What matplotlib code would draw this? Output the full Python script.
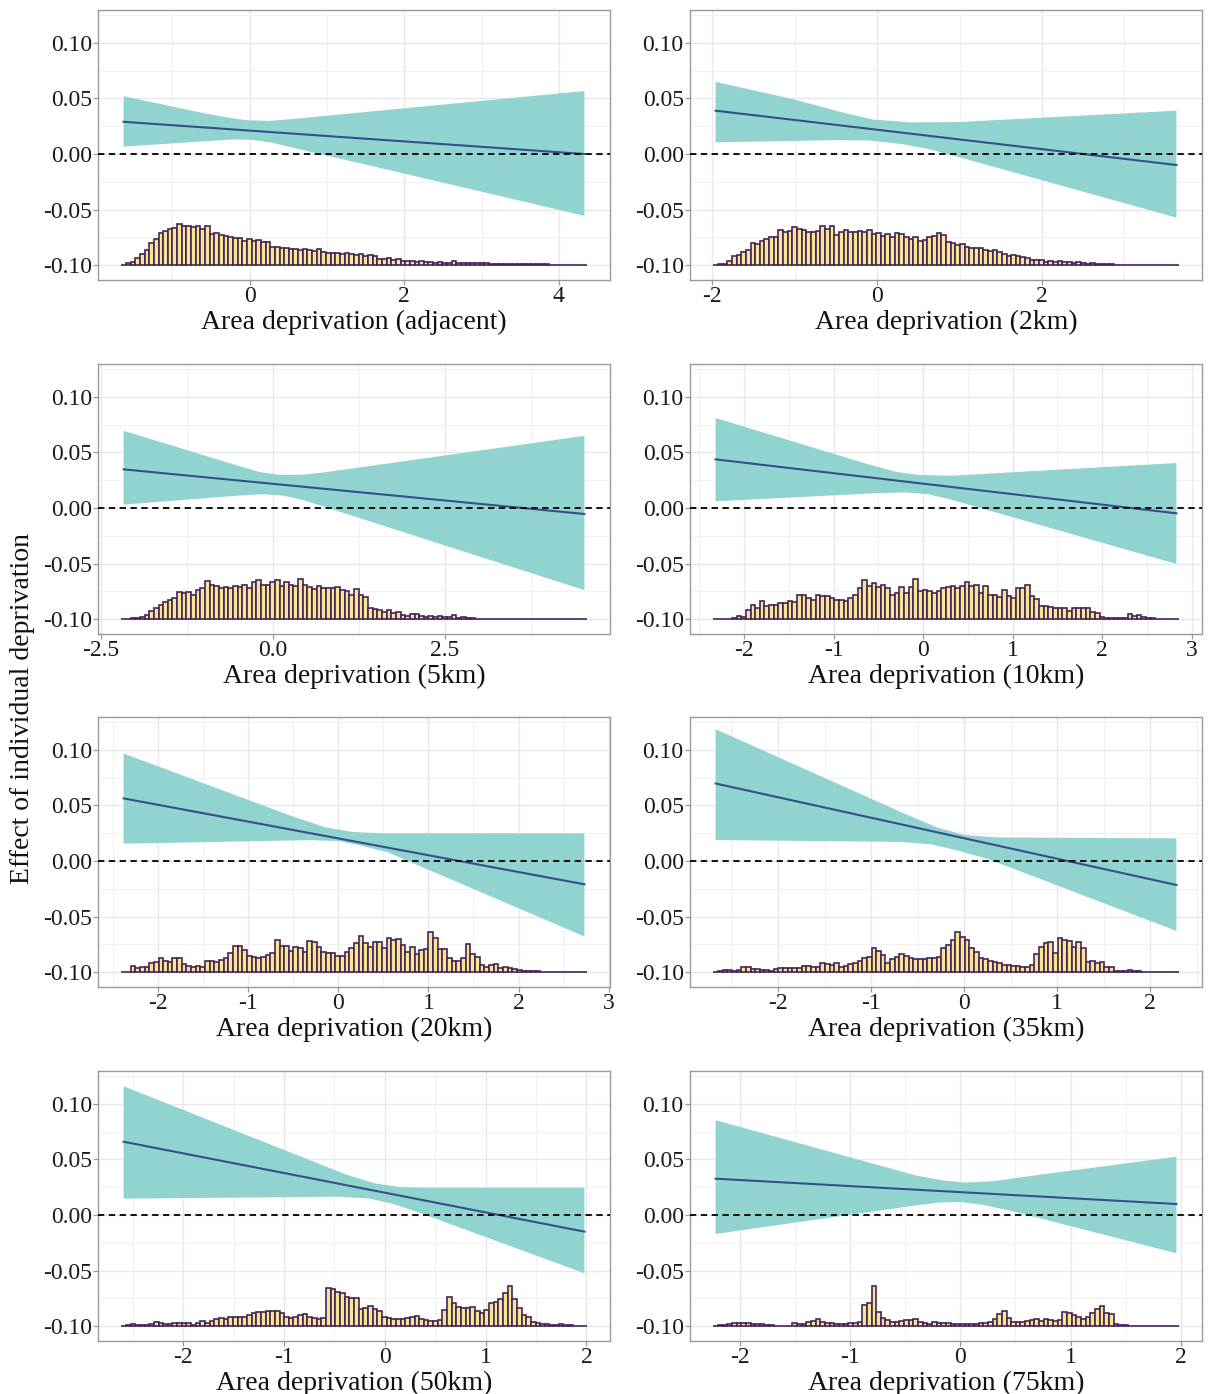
import numpy as np
import matplotlib
matplotlib.use('Agg')
import matplotlib.pyplot as plt

plt.rcParams['font.family'] = ['Liberation Serif', 'DejaVu Serif']
plt.rcParams['axes.unicode_minus'] = False

# panel titles (x axis)
titles = ['Area deprivation (adjacent)', 'Area deprivation (2km)',
          'Area deprivation (5km)', 'Area deprivation (10km)',
          'Area deprivation (20km)', 'Area deprivation (35km)',
          'Area deprivation (50km)', 'Area deprivation (75km)']

# range of the area deprivation values per panel
x_range = [(-1.63, 4.33), (-1.96, 3.63), (-2.17, 4.53), (-2.32, 2.83),
           (-2.38, 2.73), (-2.67, 2.28), (-2.59, 1.98), (-2.22, 1.96)]

x_ticks = [[0, 2, 4], [-2, 0, 2], [-2.5, 0.0, 2.5], [-2, -1, 0, 1, 2, 3],
           [-2, -1, 0, 1, 2, 3], [-2, -1, 0, 1, 2], [-2, -1, 0, 1, 2],
           [-2, -1, 0, 1, 2]]
x_ticklabels = [['0', '2', '4'], ['-2', '0', '2'], ['-2.5', '0.0', '2.5'],
                ['-2', '-1', '0', '1', '2', '3'], ['-2', '-1', '0', '1', '2', '3'],
                ['-2', '-1', '0', '1', '2'], ['-2', '-1', '0', '1', '2'],
                ['-2', '-1', '0', '1', '2']]

# fitted effect line (start, end)
line_y = [(0.029, 0.0), (0.039, -0.0099), (0.0348, -0.0054), (0.0438, -0.0048),
          (0.0564, -0.021), (0.0698, -0.0216), (0.066, -0.015), (0.0327, 0.0099)]

# upper bound of confidence band
upper_x = [[-1.63, -0.6, -0.3, -0.05, 0.25, 0.6, 4.33],
           [-1.96, -1.0, -0.4, -0.05, 0.4, 1.0, 3.63],
           [-2.17, -0.5, -0.2, 0.1, 0.45, 0.8, 4.53],
           [-2.32, -0.6, -0.3, -0.05, 0.3, 2.83],
           [-2.38, -0.5, -0.15, 0.15, 0.45, 2.73],
           [-2.67, -0.65, -0.3, 0.0, 0.35, 2.28],
           [-2.59, -0.4, -0.1, 0.15, 0.4, 1.98],
           [-2.22, -0.4, -0.15, 0.05, 0.3, 0.55, 1.96]]
upper_y = [[0.052, 0.0369, 0.0330, 0.0305, 0.0298, 0.0318, 0.0567],
           [0.065, 0.049, 0.037, 0.0310, 0.0285, 0.0288, 0.039],
           [0.0695, 0.038, 0.0325, 0.0298, 0.0300, 0.0325, 0.065],
           [0.081, 0.039, 0.0325, 0.0298, 0.0290, 0.0405],
           [0.0968, 0.040, 0.0305, 0.0262, 0.0250, 0.0249],
           [0.1187, 0.043, 0.0305, 0.0235, 0.0212, 0.0204],
           [0.116, 0.037, 0.0285, 0.0252, 0.0246, 0.0246],
           [0.0854, 0.0355, 0.0310, 0.0292, 0.0305, 0.0340, 0.0525]]

# lower bound of confidence band
lower_x = [[-1.63, -0.6, -0.2, 0.05, 0.3, 0.6, 1.5, 4.33],
           [-1.96, -0.5, -0.1, 0.3, 0.65, 1.0, 3.63],
           [-2.17, -0.5, -0.15, 0.15, 0.45, 4.53],
           [-2.32, -0.5, -0.2, 0.05, 0.3, 2.83],
           [-2.38, -0.3, 0.0, 0.25, 0.55, 2.73],
           [-2.67, -0.7, -0.35, -0.1, 0.25, 2.28],
           [-2.59, -0.45, -0.15, 0.08, 0.3, 1.98],
           [-2.22, -0.45, -0.2, 0.0, 0.2, 0.45, 1.96]]
lower_y = [[0.0066, 0.0114, 0.0132, 0.0127, 0.0100, 0.005, -0.0095, -0.0557],
           [0.0105, 0.0125, 0.0122, 0.009, 0.004, -0.003, -0.0573],
           [0.003, 0.0112, 0.0124, 0.0112, 0.007, -0.074],
           [0.006, 0.0134, 0.0140, 0.0125, 0.0078, -0.0504],
           [0.0156, 0.0188, 0.0180, 0.0140, 0.0078, -0.068],
           [0.0189, 0.0172, 0.0150, 0.0100, 0.002, -0.063],
           [0.0147, 0.0165, 0.0148, 0.0100, 0.0035, -0.0525],
           [-0.0171, 0.0080, 0.0112, 0.0118, 0.0092, 0.004, -0.0345]]

# histogram bar heights (100 bins, in thousandths of the y axis)
hist_adj = [0, 1.5, 2.7, 6, 9.6, 13.5, 19.5, 23, 28.5, 31,
            32, 33, 37, 35, 35, 34, 35, 32, 35, 28,
            29, 27, 26, 25.5, 24, 24, 22, 23, 21.6, 22.5,
            21, 20.4, 16, 16, 15.6, 15, 14, 14.5, 13.5, 14,
            13.5, 13, 14, 11.5, 11, 10.5, 11, 10, 11, 10,
            9, 9.5, 8.5, 9, 8, 5.5, 5, 6, 4.5, 5,
            4, 3.5, 3.5, 3, 3.5, 3, 2.5, 2, 2.5, 2,
            2, 3.5, 2, 2, 1.5, 2, 1.5, 1.5, 1.5, 1.2,
            1.2, 1, 1, 0.8, 1, 0.8, 0.8, 0.6, 0.6, 0.6,
            0.5, 0.5, 0.4, 0.4, 0.3, 0.3, 0.2, 0.2, 0.2, 0.2]
hist_2km = [0.3, 0.5, 1, 4, 8, 9, 11.5, 13.5, 20, 19,
            22, 23.5, 25, 25, 31.5, 29.5, 31, 34.5, 32.5, 31.5,
            30, 30, 31, 35.5, 32.5, 35.5, 27, 30, 31.5, 30,
            29.5, 31, 29.5, 31.5, 28, 28.5, 26, 28, 25.5, 29,
            28, 25, 23.5, 25, 22, 22.5, 25, 26.5, 29, 27,
            20.5, 19.5, 18, 19, 16, 15.5, 15.5, 15, 13.5, 13,
            13.5, 11.5, 10, 8.5, 9, 8.5, 7, 6.5, 4.5, 4.5,
            4.5, 3, 4, 2.5, 3.3, 2.5, 2.7, 1.8, 2.5, 1.8,
            1.2, 1.5, 0.9, 0.9, 0.6, 0.5, 0.4, 0.3, 0.3, 0.2,
            0.2, 0.2, 0.1, 0.1, 0.1, 0.1, 0.2, 0.1, 0.1, 0]
hist_5km = [0, 0.2, 0.5, 1, 2, 4, 7, 9.5, 13, 15.5,
            17, 19, 24, 23, 24, 22, 26, 28, 34, 31,
            30, 28, 28.5, 28, 30, 28.5, 31, 28, 33, 35,
            31, 31, 33, 35, 30, 33, 31, 30, 36, 31,
            29, 27, 30, 28, 28, 28, 28.5, 26, 25, 22,
            27, 22, 20, 10, 9, 8.5, 6.5, 8, 5, 6.5,
            3.5, 3, 4.5, 4.5, 2.5, 2, 2.5, 1.5, 2.5, 1.5,
            2, 3.5, 1, 1.5, 0.8, 0.5, 0.3, 0.2, 0.2, 0.1,
            0.1, 0.1, 0, 0, 0, 0, 0, 0, 0, 0,
            0, 0, 0, 0, 0, 0, 0, 0, 0, 0]
hist_10km = [0.2, 0.2, 0.3, 0.3, 0.5, 2.5, 1.8, 7.8, 12.6, 10,
             16, 11.7, 12.6, 13, 14, 14.7, 16, 15.6, 22, 22,
             18.6, 16.8, 22, 20.7, 20.7, 18.6, 16.8, 16.8, 16, 19,
             22, 28, 35, 30, 32, 29, 31, 27.6, 22, 23.7,
             29, 23.7, 29, 35.7, 25, 26, 25, 23, 25, 28,
             29, 30, 27.6, 30, 33, 30, 31, 23, 30, 22,
             21.6, 19.8, 26, 20.7, 19, 28, 27.6, 31, 20.7, 17.7,
             11.7, 11.7, 10.8, 9.6, 9.6, 10, 7, 10, 9.6, 10,
             10, 6.3, 5.7, 1.8, 1.2, 0.6, 0.5, 0.5, 0.8, 4.2,
             2.7, 3.3, 1.8, 0.8, 0.5, 0.3, 0.3, 0.2, 0.1, 0.1]
hist_20km = [0.2, 0.3, 5.4, 3.9, 4.2, 4.8, 7.8, 9.3, 12.3, 10.2,
             8.7, 12.9, 12.9, 6.9, 5.7, 4.8, 5.7, 4.8, 9.9, 9.9,
             9.3, 10.8, 12.9, 16.8, 23.4, 23.4, 19.8, 14.7, 13.2, 12.9,
             13.2, 15.3, 16.8, 28.8, 23.7, 23.7, 18.9, 22.8, 21.3, 17.7,
             27.9, 26.7, 22.8, 17.7, 16.8, 16.8, 14.7, 14.7, 18.3, 21.3,
             25.8, 32.7, 25.8, 22.8, 27.3, 26.7, 21.9, 30.3, 28.8, 29.7,
             24.3, 18.3, 22.2, 15.9, 19.8, 20.7, 36.3, 30.3, 20.4, 20.4,
             12.3, 10.2, 9.9, 12.3, 24.9, 15.9, 13.8, 6.3, 4.8, 6.3,
             6.9, 3.3, 4.8, 3.9, 2.4, 1.8, 0.9, 1.2, 1.0, 0.6,
             0.3, 0.3, 0.2, 0.2, 0.3, 0.3, 0.2, 0.1, 0.1, 0]
hist_35km = [0.3, 0.5, 1.5, 1.5, 0.9, 1.8, 4.8, 4.8, 2.7, 2.4,
             1.8, 1.8, 0.9, 2.7, 3.3, 3.3, 3.3, 3.9, 3.3, 5.4,
             5.4, 4.8, 4.8, 8.4, 6.9, 6.3, 7.8, 4.8, 5.7, 6.9,
             8.4, 10.2, 12.3, 13.2, 21.3, 19.2, 15.3, 8.4, 11.4, 13.8,
             15.9, 14.7, 12.9, 11.7, 11.7, 11.7, 12.3, 12.9, 13.8, 21.9,
             24.3, 28.8, 36.3, 31.8, 28.8, 21.3, 17.7, 12.3, 11.7, 9.9,
             9.3, 7.8, 6.3, 6.3, 5.7, 5.7, 4.8, 4.8, 6.3, 15.9,
             22.8, 25.8, 27.3, 16.8, 30.3, 28.8, 27.9, 22.8, 27.3, 21.9,
             9.3, 9.9, 7.8, 9.3, 4.8, 4.2, 0.9, 0.6, 0.5, 1.8,
             0.6, 0.5, 0.4, 0.3, 0.3, 0.3, 0.2, 0.2, 0.1, 0.1]
hist_50km = [0.3, 0.5, 1.5, 0.9, 0.6, 0.9, 1.5, 3.3, 2.4, 1.5,
             1.8, 3.0, 3.0, 3.0, 3.0, 0.9, 2.4, 4.5, 3.0, 4.5,
             6.0, 6.9, 6.0, 8.4, 8.4, 8.4, 8.4, 9.9, 12.0, 12.3,
             12.9, 13.2, 13.5, 13.5, 12.0, 8.4, 6.9, 7.8, 9.6, 10.5,
             8.4, 7.5, 6.0, 7.5, 34.5, 33.0, 30.9, 30.0, 26.4, 24.9,
             24.9, 15.0, 15.9, 18.0, 15.0, 13.8, 8.4, 6.9, 6.6, 6.6,
             6.6, 7.5, 8.4, 9.0, 6.0, 5.4, 4.8, 4.8, 5.4, 14.4,
             26.4, 20.4, 17.4, 16.5, 15.9, 17.4, 13.5, 12.0, 14.4, 21.0,
             21.9, 24.0, 29.4, 36.0, 24.0, 15.9, 9.9, 8.4, 3.9, 3.0,
             1.8, 1.5, 0.9, 0.9, 1.8, 0.9, 0.5, 0.3, 0.2, 0.1]
hist_75km = [0.3, 0.5, 0.8, 1.5, 2.4, 2.4, 2.4, 2.4, 1.8, 1.8,
             1.5, 0.9, 0.5, 0.3, 0.3, 0.3, 0.3, 2.4, 1.5, 1.5,
             3.9, 4.5, 6.0, 3.3, 2.4, 2.4, 1.8, 1.8, 1.5, 2.4,
             2.4, 3.3, 18.9, 20.4, 36.3, 12.9, 7.5, 5.4, 3.9, 3.9,
             4.8, 5.4, 5.4, 6.0, 3.9, 3.0, 1.5, 3.9, 3.0, 2.4,
             2.4, 1.8, 1.8, 1.5, 1.5, 1.5, 1.8, 3.0, 3.0, 3.3,
             6.0, 10.5, 13.5, 6.9, 3.9, 3.3, 3.9, 4.8, 5.4, 6.0,
             4.5, 6.0, 5.4, 4.8, 5.4, 12.3, 11.4, 9.9, 8.4, 6.0,
             8.4, 11.4, 15.0, 18.0, 11.4, 10.8, 1.5, 0.5, 0.5, 0.4,
             0.4, 0.4, 0.3, 0.3, 0.3, 0.3, 0.3, 0.2, 0.2, 0.1]
hists = [hist_adj, hist_2km, hist_5km, hist_10km,
         hist_20km, hist_35km, hist_50km, hist_75km]

y_ticks = [-0.10, -0.05, 0.00, 0.05, 0.10]

ribbon_col = '#91d4cf'
line_col = '#34508c'
bar_fill = '#f8e592'
bar_edge = '#45245a'
frame_col = '#9a9a9a'

fig = plt.figure(figsize=(12.09, 13.94), dpi=100)

lefts = [98 / 1209, 690 / 1209]
width = 512 / 1209
tops = [10, 364, 717, 1071]
height = 270 / 1394

for k in range(8):
    r, c = k // 2, k % 2
    ax = fig.add_axes([lefts[c], 1 - (tops[r] + 270) / 1394, width, height])

    lo, hi = x_range[k]
    bw = (hi - lo) / 99
    edges = np.linspace(lo - bw / 2, hi + bw / 2, 101)
    span = edges[-1] - edges[0]
    ax.set_xlim(edges[0] - 0.05 * span, edges[-1] + 0.05 * span)
    ax.set_ylim(-0.1135, 0.1297)

    # confidence band
    ux, uy = upper_x[k], upper_y[k]
    lx, ly = lower_x[k], lower_y[k]
    ax.fill(list(ux) + list(lx[::-1]), list(uy) + list(ly[::-1]),
            color=ribbon_col, lw=0, zorder=2)
    ax.plot([lo, hi], line_y[k], color=line_col, lw=1.5, zorder=3)
    ax.axhline(0, color='black', lw=1.3, ls=(0, (3.5, 2.5)), zorder=4)

    # histogram of the moderator
    h = np.array(hists[k]) * 0.001
    ax.bar(edges[:-1], h, width=bw, bottom=-0.1, align='edge',
           facecolor=bar_fill, edgecolor=bar_edge, linewidth=1.2, zorder=5)

    # grid and ticks like theme_bw
    xt = x_ticks[k]
    step = xt[1] - xt[0]
    xmin, xmax = ax.get_xlim()
    minors = [xt[0] - step / 2 + i * step for i in range(len(xt) + 1)]
    minors = [m for m in minors if xmin <= m <= xmax]
    ax.set_xticks(xt)
    ax.set_xticklabels(x_ticklabels[k])
    ax.set_xticks(minors, minor=True)
    ax.set_yticks(y_ticks)
    ax.set_yticklabels(['%.2f' % v for v in y_ticks])
    ax.set_yticks([-0.075, -0.025, 0.025, 0.075, 0.125], minor=True)
    ax.grid(which='major', color='#e8e8e8', lw=1.0, zorder=0)
    ax.grid(which='minor', color='#f1f1f1', lw=0.7, zorder=0)
    ax.set_axisbelow(True)
    ax.tick_params(which='major', length=3.5, width=0.9, color=frame_col,
                   labelsize=17, labelcolor='#1a1a1a', pad=1)
    ax.tick_params(which='minor', length=0)
    for sp in ax.spines.values():
        sp.set_color(frame_col)
        sp.set_linewidth(1.0)
    ax.set_xlabel(titles[k], fontsize=20, labelpad=2, color='#111111')

fig.text(0.019, 0.492, 'Effect of individual deprivation', rotation=90,
         fontsize=20, va='center', ha='center', color='#111111')

fig.savefig('out.png', dpi=100)
